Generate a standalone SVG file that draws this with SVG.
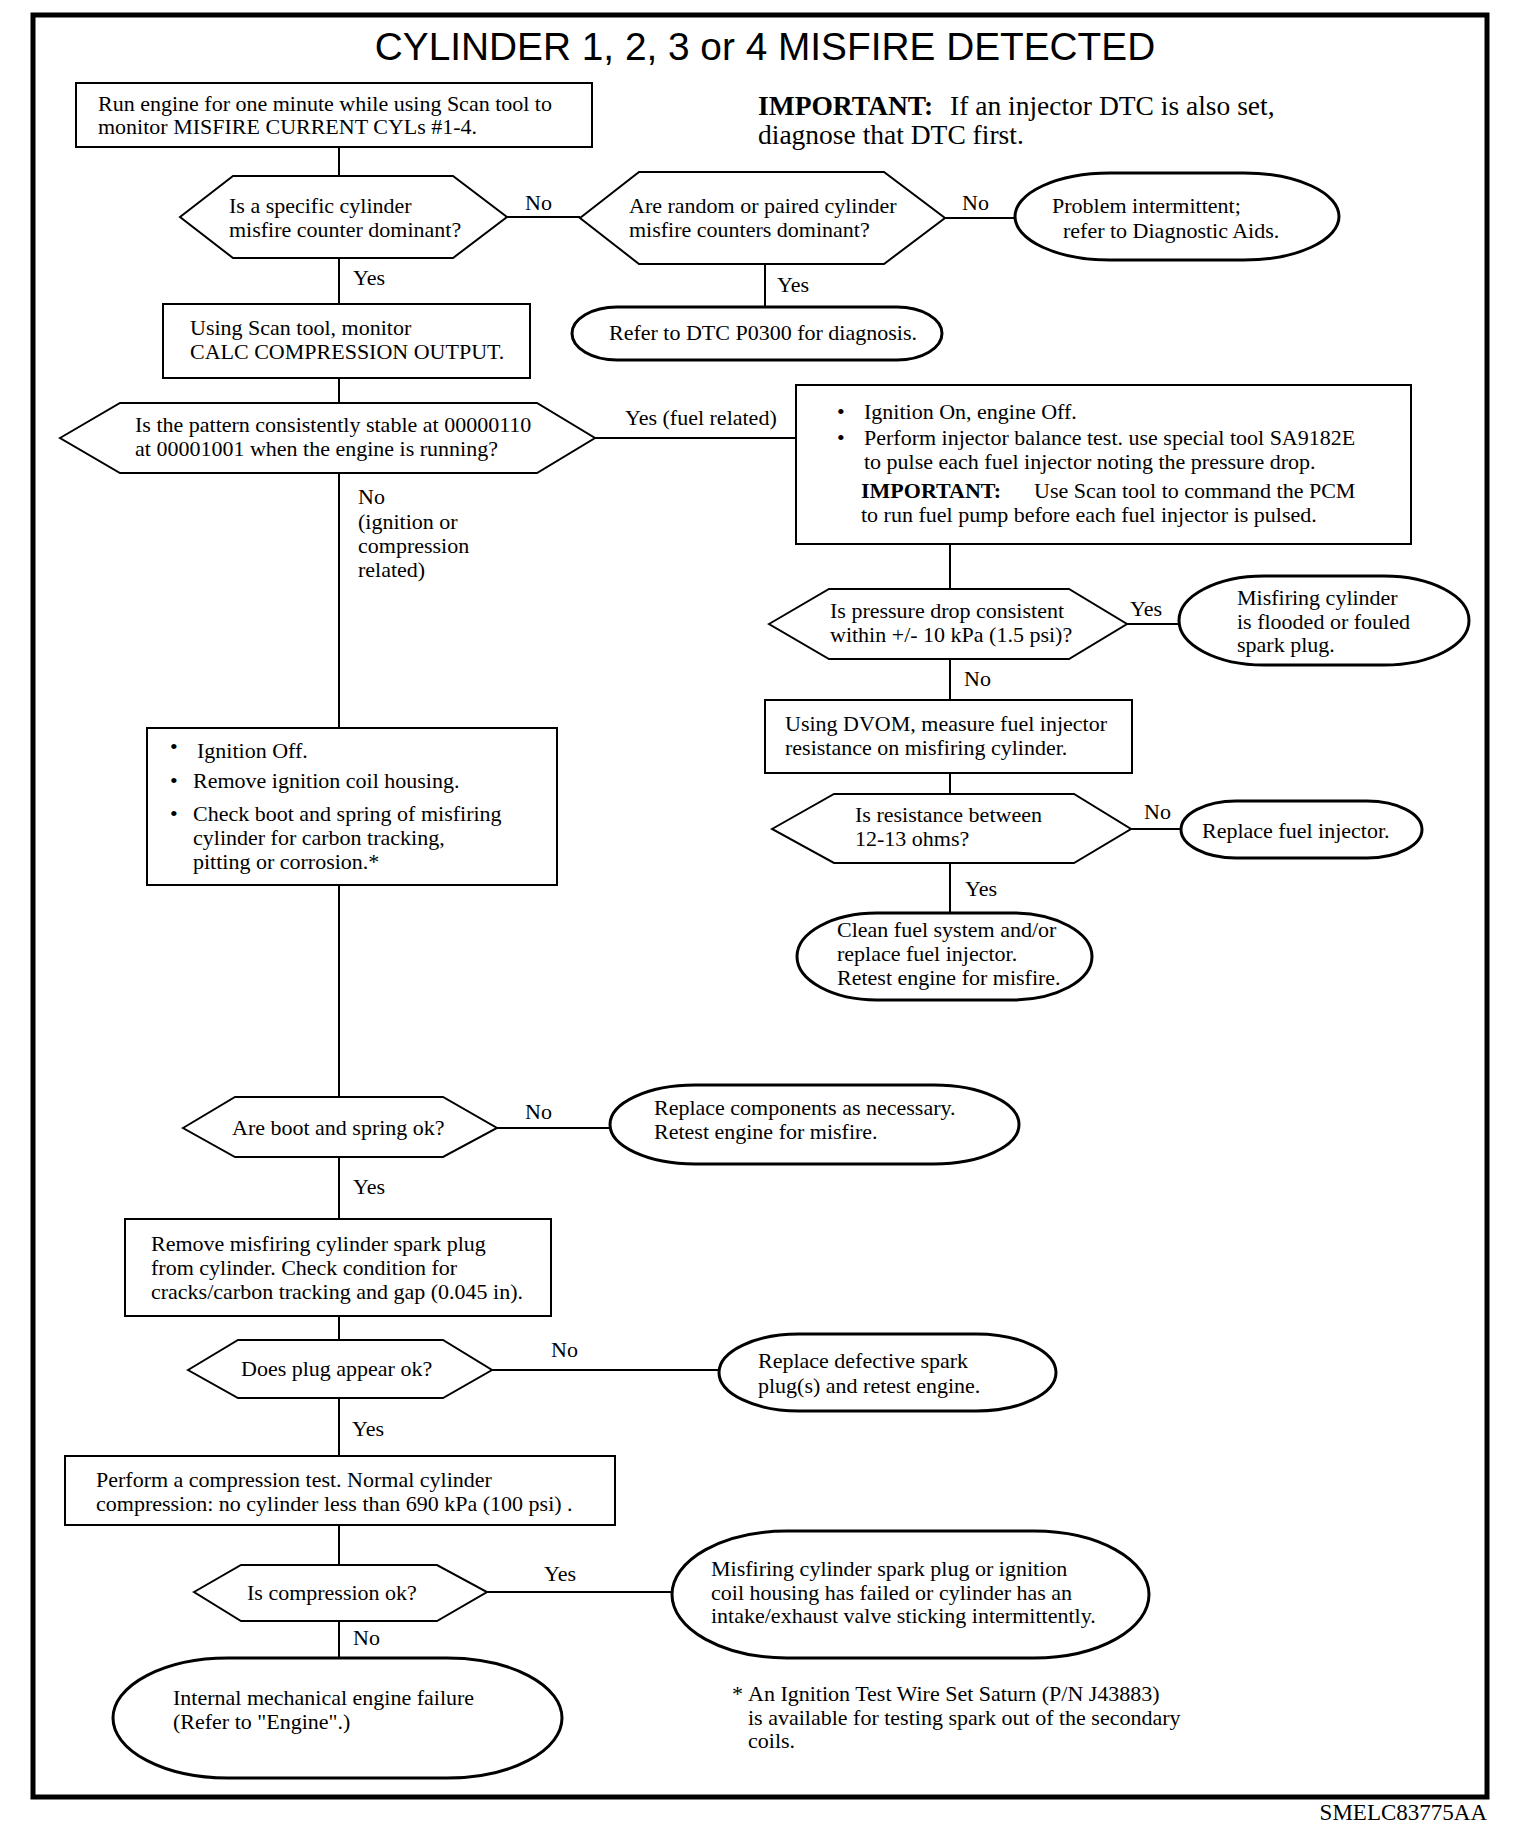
<svg xmlns="http://www.w3.org/2000/svg" width="1536" height="1842" viewBox="0 0 1536 1842">
<style>
.t{font-family:"Liberation Serif","Times New Roman",serif;font-size:22px;fill:#000}
.s{font-family:"Liberation Sans",Arial,sans-serif;fill:#000}
.b{font-weight:bold}
.box{fill:#fff;stroke:#000;stroke-width:2}
.dec{fill:#fff;stroke:#000;stroke-width:2}
.term{fill:#fff;stroke:#000;stroke-width:3}
#connectors line{stroke:#000;stroke-width:2}
</style>
<rect x="0" y="0" width="1536" height="1842" fill="#fff"/>
<rect id="frame" x="33" y="15" width="1454" height="1782" fill="none" stroke="#000" stroke-width="5"/>
<text class="s" x="765" y="60" style="font-size:38.8px" text-anchor="middle">CYLINDER 1, 2, 3 or 4 MISFIRE DETECTED</text>
<g id="important-note">
<text class="t" style="font-size:27.5px" x="758" y="115"><tspan class="b">IMPORTANT:</tspan><tspan x="950">If an injector DTC is also set,</tspan></text>
<text class="t" style="font-size:27.5px" x="758" y="144">diagnose that DTC first.</text>
</g>

<g id="connectors">
<line x1="339" y1="147" x2="339" y2="176"/>
<line x1="339" y1="258" x2="339" y2="304"/>
<line x1="507" y1="217" x2="580" y2="217"/>
<line x1="945" y1="218" x2="1015" y2="218"/>
<line x1="765" y1="264" x2="765" y2="307"/>
<line x1="339" y1="378" x2="339" y2="403"/>
<line x1="595" y1="438" x2="796" y2="438"/>
<line x1="339" y1="473" x2="339" y2="728"/>
<line x1="950" y1="544" x2="950" y2="589"/>
<line x1="1127" y1="624" x2="1179" y2="624"/>
<line x1="950" y1="659" x2="950" y2="700"/>
<line x1="950" y1="773" x2="950" y2="794"/>
<line x1="1131" y1="829" x2="1181" y2="829"/>
<line x1="950" y1="863" x2="950" y2="913"/>
<line x1="339" y1="885" x2="339" y2="1097"/>
<line x1="497" y1="1128" x2="610" y2="1128"/>
<line x1="339" y1="1157" x2="339" y2="1219"/>
<line x1="339" y1="1316" x2="339" y2="1340"/>
<line x1="492" y1="1370" x2="719" y2="1370"/>
<line x1="339" y1="1398" x2="339" y2="1456"/>
<line x1="339" y1="1525" x2="339" y2="1565"/>
<line x1="487" y1="1592" x2="672" y2="1592"/>
<line x1="339" y1="1621" x2="339" y2="1658"/>
<text class="t" x="525" y="210">No</text>
<text class="t" x="962" y="210">No</text>
<text class="t" x="353" y="285">Yes</text>
<text class="t" x="777" y="292">Yes</text>
<text class="t" x="625" y="425">Yes (fuel related)</text>
<text class="t" x="358" y="504">No</text>
<text class="t" x="358" y="529">(ignition or</text>
<text class="t" x="358" y="553">compression</text>
<text class="t" x="358" y="577">related)</text>
<text class="t" x="1130" y="616">Yes</text>
<text class="t" x="964" y="686">No</text>
<text class="t" x="1144" y="819">No</text>
<text class="t" x="965" y="896">Yes</text>
<text class="t" x="525" y="1119">No</text>
<text class="t" x="353" y="1194">Yes</text>
<text class="t" x="551" y="1357">No</text>
<text class="t" x="352" y="1436">Yes</text>
<text class="t" x="544" y="1581">Yes</text>
<text class="t" x="353" y="1645">No</text>
</g>

<g id="n-run-engine">
<rect class="box" x="76" y="83" width="516" height="64"/>
<text class="t" x="98" y="111">Run engine for one minute while using Scan tool to</text>
<text class="t" x="98" y="134">monitor MISFIRE CURRENT CYLs #1-4.</text>
</g>

<g id="d-specific">
<polygon class="dec" points="180,217 233,176 453,176 507,217 453,258 233,258"/>
<text class="t" x="229" y="213">Is a specific cylinder</text>
<text class="t" x="229" y="237">misfire counter dominant?</text>
</g>

<g id="d-random">
<polygon class="dec" points="580,218 639,172 884,172 945,218 884,264 639,264"/>
<text class="t" x="629" y="213">Are random or paired cylinder</text>
<text class="t" x="629" y="237">misfire counters dominant?</text>
</g>

<g id="t-intermittent">
<rect class="term" x="1015" y="173" width="324" height="87" rx="95" ry="43.5"/>
<text class="t" x="1052" y="213">Problem intermittent;</text>
<text class="t" x="1063" y="238">refer to Diagnostic Aids.</text>
</g>

<g id="t-p0300">
<rect class="term" x="572" y="307" width="370" height="53" rx="45" ry="26.5"/>
<text class="t" x="609" y="340">Refer to DTC P0300 for diagnosis.</text>
</g>

<g id="n-calc">
<rect class="box" x="163" y="304" width="367" height="74"/>
<text class="t" x="190" y="335">Using Scan tool, monitor</text>
<text class="t" x="190" y="359">CALC COMPRESSION OUTPUT.</text>
</g>

<g id="d-pattern">
<polygon class="dec" points="60,438 120,403 537,403 595,438 537,473 120,473"/>
<text class="t" x="135" y="432">Is the pattern consistently stable at 00000110</text>
<text class="t" x="135" y="456">at 00001001 when the engine is running?</text>
</g>

<g id="n-balance">
<rect class="box" x="796" y="385" width="615" height="159"/>
<text class="t" x="837" y="419">•</text><text class="t" x="864" y="419">Ignition On, engine Off.</text>
<text class="t" x="837" y="445">•</text><text class="t" x="864" y="445">Perform injector balance test. use special tool SA9182E</text>
<text class="t" x="864" y="469">to pulse each fuel injector noting the pressure drop.</text>
<text class="t b" x="861" y="498">IMPORTANT:</text><text class="t" x="1034" y="498">Use Scan tool to command the PCM</text>
<text class="t" x="861" y="522">to run fuel pump before each fuel injector is pulsed.</text>
</g>

<g id="d-pressure">
<polygon class="dec" points="769,624 829,589 1069,589 1127,624 1069,659 829,659"/>
<text class="t" x="830" y="618">Is pressure drop consistent</text>
<text class="t" x="830" y="642">within +/- 10 kPa (1.5 psi)?</text>
</g>

<g id="t-flooded">
<rect class="term" x="1179" y="576" width="290" height="89" rx="85" ry="44.5"/>
<text class="t" x="1237" y="605">Misfiring cylinder</text>
<text class="t" x="1237" y="629">is flooded or fouled</text>
<text class="t" x="1237" y="652">spark plug.</text>
</g>

<g id="n-dvom">
<rect class="box" x="765" y="700" width="367" height="73"/>
<text class="t" x="785" y="731">Using DVOM, measure fuel injector</text>
<text class="t" x="785" y="755">resistance on misfiring cylinder.</text>
</g>

<g id="d-resistance">
<polygon class="dec" points="772,829 834,794 1074,794 1131,829 1074,863 834,863"/>
<text class="t" x="855" y="822">Is resistance between</text>
<text class="t" x="855" y="846">12-13 ohms?</text>
</g>

<g id="t-replace-injector">
<rect class="term" x="1181" y="801" width="241" height="57" rx="55" ry="28.5"/>
<text class="t" x="1202" y="838">Replace fuel injector.</text>
</g>

<g id="t-clean">
<rect class="term" x="797" y="913" width="295" height="87" rx="80" ry="43.5"/>
<text class="t" x="837" y="937">Clean fuel system and/or</text>
<text class="t" x="837" y="961">replace fuel injector.</text>
<text class="t" x="837" y="985">Retest engine for misfire.</text>
</g>

<g id="n-ignition-off">
<rect class="box" x="147" y="728" width="410" height="157"/>
<text class="t" x="170" y="754">•</text><text class="t" x="197" y="758">Ignition Off.</text>
<text class="t" x="170" y="788">•</text><text class="t" x="193" y="788">Remove ignition coil housing.</text>
<text class="t" x="170" y="821">•</text><text class="t" x="193" y="821">Check boot and spring of misfiring</text>
<text class="t" x="193" y="845">cylinder for carbon tracking,</text>
<text class="t" x="193" y="869">pitting or corrosion.*</text>
</g>

<g id="d-boot">
<polygon class="dec" points="183,1128 235,1097 443,1097 497,1128 443,1157 235,1157"/>
<text class="t" x="232" y="1135">Are boot and spring ok?</text>
</g>

<g id="t-replace-components">
<rect class="term" x="610" y="1085" width="409" height="79" rx="85" ry="39.5"/>
<text class="t" x="654" y="1115">Replace components as necessary.</text>
<text class="t" x="654" y="1139">Retest engine for misfire.</text>
</g>

<g id="n-remove-plug">
<rect class="box" x="125" y="1219" width="426" height="97"/>
<text class="t" x="151" y="1251">Remove misfiring cylinder spark plug</text>
<text class="t" x="151" y="1275">from cylinder. Check condition for</text>
<text class="t" x="151" y="1299">cracks/carbon tracking and gap (0.045 in).</text>
</g>

<g id="d-plug">
<polygon class="dec" points="188,1370 238,1340 443,1340 492,1370 443,1398 238,1398"/>
<text class="t" x="241" y="1376">Does plug appear ok?</text>
</g>

<g id="t-replace-plug">
<rect class="term" x="719" y="1334" width="337" height="77" rx="80" ry="38.5"/>
<text class="t" x="758" y="1368">Replace defective spark</text>
<text class="t" x="758" y="1393">plug(s) and retest engine.</text>
</g>

<g id="n-compression-test">
<rect class="box" x="65" y="1456" width="550" height="69"/>
<text class="t" x="96" y="1487">Perform a compression test. Normal cylinder</text>
<text class="t" x="96" y="1511">compression: no cylinder less than 690 kPa (100 psi) .</text>
</g>

<g id="d-compression">
<polygon class="dec" points="194,1592 241,1565 437,1565 487,1592 437,1621 241,1621"/>
<text class="t" x="247" y="1600">Is compression ok?</text>
</g>

<g id="t-valve">
<rect class="term" x="672" y="1531" width="477" height="127" rx="115" ry="63.5"/>
<text class="t" x="711" y="1576">Misfiring cylinder spark plug or ignition</text>
<text class="t" x="711" y="1600">coil housing has failed or cylinder has an</text>
<text class="t" x="711" y="1623">intake/exhaust valve sticking intermittently.</text>
</g>

<g id="t-internal">
<rect class="term" x="113" y="1658" width="449" height="120" rx="115" ry="60"/>
<text class="t" x="173" y="1705">Internal mechanical engine failure</text>
<text class="t" x="173" y="1729">(Refer to "Engine".)</text>
</g>

<g id="footnote">
<text class="t" x="732" y="1701">*</text>
<text class="t" x="748" y="1701">An Ignition Test Wire Set Saturn (P/N J43883)</text>
<text class="t" x="748" y="1725">is available for testing spark out of the secondary</text>
<text class="t" x="748" y="1748">coils.</text>
</g>

<text class="t" style="font-size:23px" x="1487" y="1820" text-anchor="end">SMELC83775AA</text>
</svg>
